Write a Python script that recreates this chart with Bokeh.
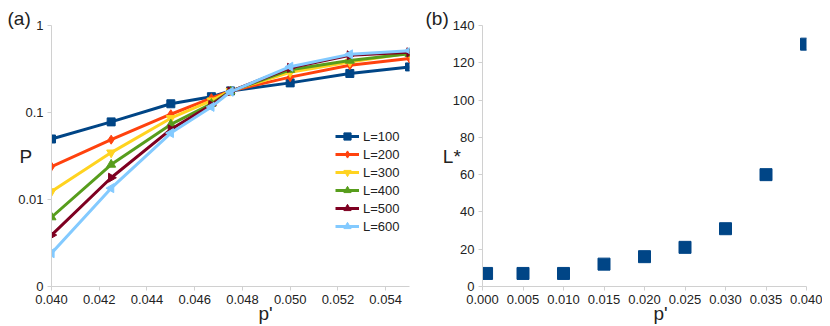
from bokeh.plotting import figure
from bokeh.layouts import row
from bokeh.models import Range1d, FixedTicker, NumeralTickFormatter, Title
from bokeh.embed import file_html
from bokeh.resources import INLINE
import math

# ---------------- data ----------------
p_a = [0.040, 0.0425, 0.045, 0.0467, 0.0475, 0.050, 0.0525, 0.055]
P_L100 = [0.0496, 0.078, 0.126, 0.152, 0.177, 0.219, 0.281, 0.334]
P_L200 = [0.0239, 0.0487, 0.0955, 0.146, 0.177, 0.255, 0.349, 0.417]
P_L300 = [0.0124, 0.0346, 0.086, 0.137, 0.177, 0.290, 0.381, 0.483]
P_L400 = [0.00626, 0.0252, 0.073, 0.126, 0.175, 0.310, 0.395, 0.473]
P_L500 = [0.0039, 0.0178, 0.064, 0.122, 0.175, 0.326, 0.455, 0.492]
P_L600 = [0.00241, 0.0135, 0.058, 0.116, 0.173, 0.336, 0.466, 0.514]
series_labels = ["L=100", "L=200", "L=300", "L=400", "L=500", "L=600"]

xticks_a = [0.040, 0.042, 0.044, 0.046, 0.048, 0.050, 0.052, 0.054]
yticks_a = [0.001, 0.01, 0.1, 1]
ytick_labels_a = ["0", "0.01", "0.1", "1"]

p_b = [0.0005, 0.005, 0.010, 0.015, 0.020, 0.025, 0.030, 0.035, 0.040]
Lstar = [7, 7, 7, 12, 16, 21, 31, 60, 130]
xticks_b = [0.000, 0.005, 0.010, 0.015, 0.020, 0.025, 0.030, 0.035, 0.040]
yticks_b = [0, 20, 40, 60, 80, 100, 120, 140]

# ---------------- style ----------------
FONT = "Liberation Sans"
AXIS_COL = "#d0d0d0"
TXT_COL = "#222222"
colors = ["#004586", "#ff420e", "#ffd320", "#579d1c", "#7e0021", "#83caff"]
markers = ["square", "diamond", "inverted_triangle", "triangle", "triangle", "triangle"]
angles = [0, 0, 0, 0, -math.pi / 2, math.pi / 2]
msizes = [8, 9, 9, 9, 9, 9]


def style_axes(p, ylabel, ystandoff):
    for ax in (p.xaxis[0], p.yaxis[0]):
        ax.axis_line_color = AXIS_COL
        ax.major_tick_line_color = AXIS_COL
        ax.major_tick_out = 4
        ax.major_tick_in = 0
        ax.minor_tick_line_color = None
        ax.major_label_text_font = FONT
        ax.major_label_text_font_size = "13px"
        ax.major_label_text_color = TXT_COL
        ax.major_label_standoff = 4
    ya = p.yaxis[0]
    ya.axis_label = ylabel
    ya.axis_label_orientation = "horizontal"
    ya.axis_label_standoff = ystandoff
    ya.axis_label_text_font = FONT
    ya.axis_label_text_font_size = "19px"
    ya.axis_label_text_font_style = "normal"
    ya.axis_label_text_color = TXT_COL
    p.xgrid.grid_line_color = None
    p.ygrid.grid_line_color = None
    p.outline_line_color = None


def add_title(p, text, side, offset, standoff):
    p.add_layout(Title(text=text, align="left", offset=offset, standoff=standoff,
                       text_font=FONT, text_font_size="19px", text_font_style="normal",
                       text_color=TXT_COL), side)


# ---------------- left plot ----------------
p1 = figure(width=415, height=324, x_range=Range1d(0.040, 0.055),
            y_range=Range1d(0.001, 1), y_axis_type="log", title=None,
            output_backend="svg", toolbar_location=None,
            min_border_left=51, min_border_right=6,
            min_border_top=24, min_border_bottom=37)
style_axes(p1, "P", -17)
p1.xaxis.ticker = FixedTicker(ticks=xticks_a)
p1.xaxis.formatter = NumeralTickFormatter(format="0.000")
p1.yaxis.ticker = FixedTicker(ticks=yticks_a)
p1.yaxis.major_label_overrides = {t: s for t, s in zip(yticks_a, ytick_labels_a)}

all_P = [P_L100, P_L200, P_L300, P_L400, P_L500, P_L600]
for ys, lab, c, m, a, s in zip(all_P, series_labels, colors, markers, angles, msizes):
    p1.line(p_a, ys, line_color=c, line_width=3, legend_label=lab)
    p1.scatter(p_a, ys, marker=m, angle=a, size=s, fill_color=c, line_color=c,
               legend_label=lab)

lg = p1.legend[0]
lg.location = (284, 51)
lg.padding = 0
lg.margin = 0
lg.spacing = 0
lg.glyph_width = 24
lg.glyph_height = 18
lg.label_height = 18
lg.label_standoff = 4
lg.border_line_color = None
lg.background_fill_alpha = 0
lg.label_text_font = FONT
lg.label_text_font_size = "13px"
lg.label_text_color = TXT_COL

add_title(p1, "(a)", "above", -44, -6)
add_title(p1, "p'", "below", 207, -11)

# ---------------- right plot ----------------
p2 = figure(width=407, height=324, x_range=Range1d(0.0, 0.040),
            y_range=Range1d(0, 140), title=None,
            output_backend="svg", toolbar_location=None,
            min_border_left=67, min_border_right=16,
            min_border_top=25, min_border_bottom=38)
style_axes(p2, "L*", -11)
p2.xaxis.ticker = FixedTicker(ticks=xticks_b)
p2.xaxis.formatter = NumeralTickFormatter(format="0.000")
p2.yaxis.ticker = FixedTicker(ticks=yticks_b)
p2.scatter(p_b, Lstar, marker="square", size=12, fill_color="#004586",
           line_color="#004586")

add_title(p2, "(b)", "above", -57, -6)
add_title(p2, "p'", "below", 171, -11)

layout = row(p1, p2)
open("out.html", "w").write(file_html(layout, INLINE))
